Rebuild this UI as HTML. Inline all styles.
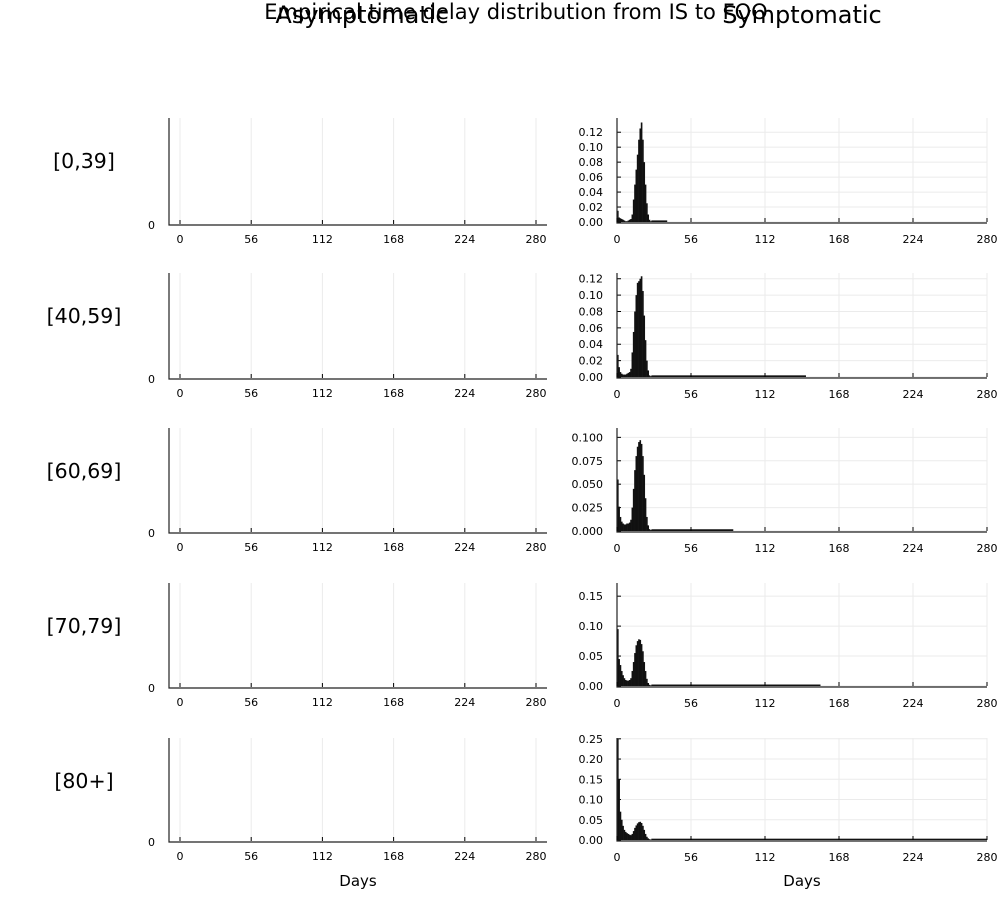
<!DOCTYPE html>
<html><head><meta charset="utf-8"><style>
body{margin:0;background:#fff;}
svg{font-family:"DejaVu Sans","Liberation Sans",sans-serif;}
</style></head><body>
<svg id="c" width="1000" height="900" xmlns="http://www.w3.org/2000/svg">
<text x="516" y="19" text-anchor="middle" font-size="21">Empirical time delay distribution from IS to FOO</text>
<text x="362" y="23" text-anchor="middle" font-size="24">Asymptomatic</text>
<text x="802" y="23" text-anchor="middle" font-size="24">Symptomatic</text>
</svg>
<script>
const groups = ["[0,39]","[40,59]","[60,69]","[70,79]","[80+]"];
const xTicks = [0,56,112,168,224,280];
// daily bar values, day 0..25
const row1 = [0.015,0.006,0.005,0.004,0.003,0.002,0.001,0.001,0.002,0.003,0.004,0.01,0.03,0.05,0.07,0.09,0.11,0.125,0.133,0.11,0.08,0.05,0.025,0.01,0.003,0.001];
const row2 = [0.027,0.012,0.006,0.004,0.003,0.003,0.003,0.004,0.005,0.006,0.01,0.03,0.055,0.08,0.1,0.115,0.117,0.12,0.123,0.105,0.075,0.045,0.02,0.008,0.002,0.001];
const row3 = [0.055,0.026,0.015,0.01,0.008,0.007,0.007,0.008,0.008,0.009,0.012,0.025,0.045,0.065,0.08,0.09,0.095,0.097,0.093,0.08,0.06,0.035,0.015,0.006,0.002,0.001];
const row4 = [0.095,0.045,0.035,0.025,0.018,0.013,0.01,0.009,0.009,0.01,0.013,0.025,0.04,0.055,0.068,0.075,0.078,0.077,0.07,0.058,0.04,0.025,0.012,0.005,0.002,0.001];
const row5 = [0.25,0.15,0.07,0.05,0.035,0.025,0.02,0.017,0.015,0.013,0.012,0.015,0.022,0.03,0.036,0.041,0.044,0.045,0.042,0.035,0.025,0.015,0.008,0.004,0.002,0.001];
const rows = [row1,row2,row3,row4,row5];
const tailValue = [0.0008,0.0008,0.0008,0.0008,0.0008];
const tailEnd = [38,143,88,154,280];
const yMax = [0.139,0.127,0.11,0.172,0.252];
const yTickVals = [[0,0.02,0.04,0.06,0.08,0.10,0.12],[0,0.02,0.04,0.06,0.08,0.10,0.12],[0,0.025,0.05,0.075,0.1],[0,0.05,0.1,0.15],[0,0.05,0.1,0.15,0.2,0.25]];
const yTickLabels = [["0.00","0.02","0.04","0.06","0.08","0.10","0.12"],["0.00","0.02","0.04","0.06","0.08","0.10","0.12"],["0.000","0.025","0.050","0.075","0.100"],["0.00","0.05","0.10","0.15"],["0.00","0.05","0.10","0.15","0.20","0.25"]];

const svg=document.getElementById('c');
const NS='http://www.w3.org/2000/svg';
function mk(t,a,txt){const e=document.createElementNS(NS,t);for(const k in a)e.setAttribute(k,a[k]);if(txt!==undefined)e.textContent=txt;svg.appendChild(e);return e;}
const tops=[118,273,428,583,738];
const bases=[224,378,532,687,841];
const rbases=[222,377,531,686,840];
for(let r=0;r<5;r++){
  const lx=d=>180+d*(356/280);
  const b=bases[r],t=tops[r];
  for(const v of xTicks){
    const g=mk('line',{x1:lx(v),x2:lx(v),y1:t,y2:b,stroke:'#ebebeb','stroke-width':1});
    
    
    const tk=mk('line',{x1:lx(v),x2:lx(v),y1:b,y2:b-4,stroke:'#000'});
    
    
    const tl=mk('text',{x:lx(v),y:b+19,'text-anchor':'middle','font-size':11},String(v));
    
    
  }
  const ax=mk('path',{d:`M169 ${t} V${b+1} H547`,stroke:'#222',fill:'none','stroke-width':1.2});
  
  
  const z=mk('text',{x:155,y:b+5,'text-anchor':'end','font-size':11},'0');
  
  
  const gl=mk('text',{x:84,y:t+50,'text-anchor':'middle','font-size':20.5},groups[r]);
  
  
  const rb=rbases[r];
  const rx=d=>617+d*(370/280);
  const ry=v=>rb-v/yMax[r]*(rb-t);
  for(const v of xTicks){
    const g=mk('line',{x1:rx(v),x2:rx(v),y1:t,y2:rb,stroke:'#ebebeb'});
    
    
  }
  yTickVals[r].forEach((v,i)=>{
    const g=mk('line',{x1:617,x2:987,y1:ry(v),y2:ry(v),stroke:'#ebebeb'});
    
    
    const tk=mk('line',{x1:617,x2:621,y1:ry(v),y2:ry(v),stroke:'#000'});
    
    
    const tl=mk('text',{x:603,y:ry(v)+4,'text-anchor':'end','font-size':11},yTickLabels[r][i]);
    
    
  });
  rows[r].forEach((v,d)=>{
    const bar=mk('rect',{x:rx(d),y:ry(v),width:rx(d+1)-rx(d)+0.3,height:rb-ry(v),fill:'#111'});
    
    
  });
  const tail=mk('rect',{x:rx(rows[r].length),y:ry(tailValue[r])-1,width:rx(tailEnd[r])-rx(rows[r].length),height:rb-ry(tailValue[r])+1,fill:'#111'});
  
  
  const rax=mk('path',{d:`M617 ${t} V${rb+1} H987`,stroke:'#222',fill:'none','stroke-width':1.2});
  
  
  for(const v of xTicks){
    const tk=mk('line',{x1:rx(v),x2:rx(v),y1:rb,y2:rb-4,stroke:'#000'});
    
    
    const tl=mk('text',{x:rx(v),y:rb+21,'text-anchor':'middle','font-size':11},String(v));
    
    
  }
}
const d1=mk('text',{x:358,y:886,'text-anchor':'middle','font-size':15},'Days');


const d2=mk('text',{x:802,y:886,'text-anchor':'middle','font-size':15},'Days');


</script>
</body></html>
